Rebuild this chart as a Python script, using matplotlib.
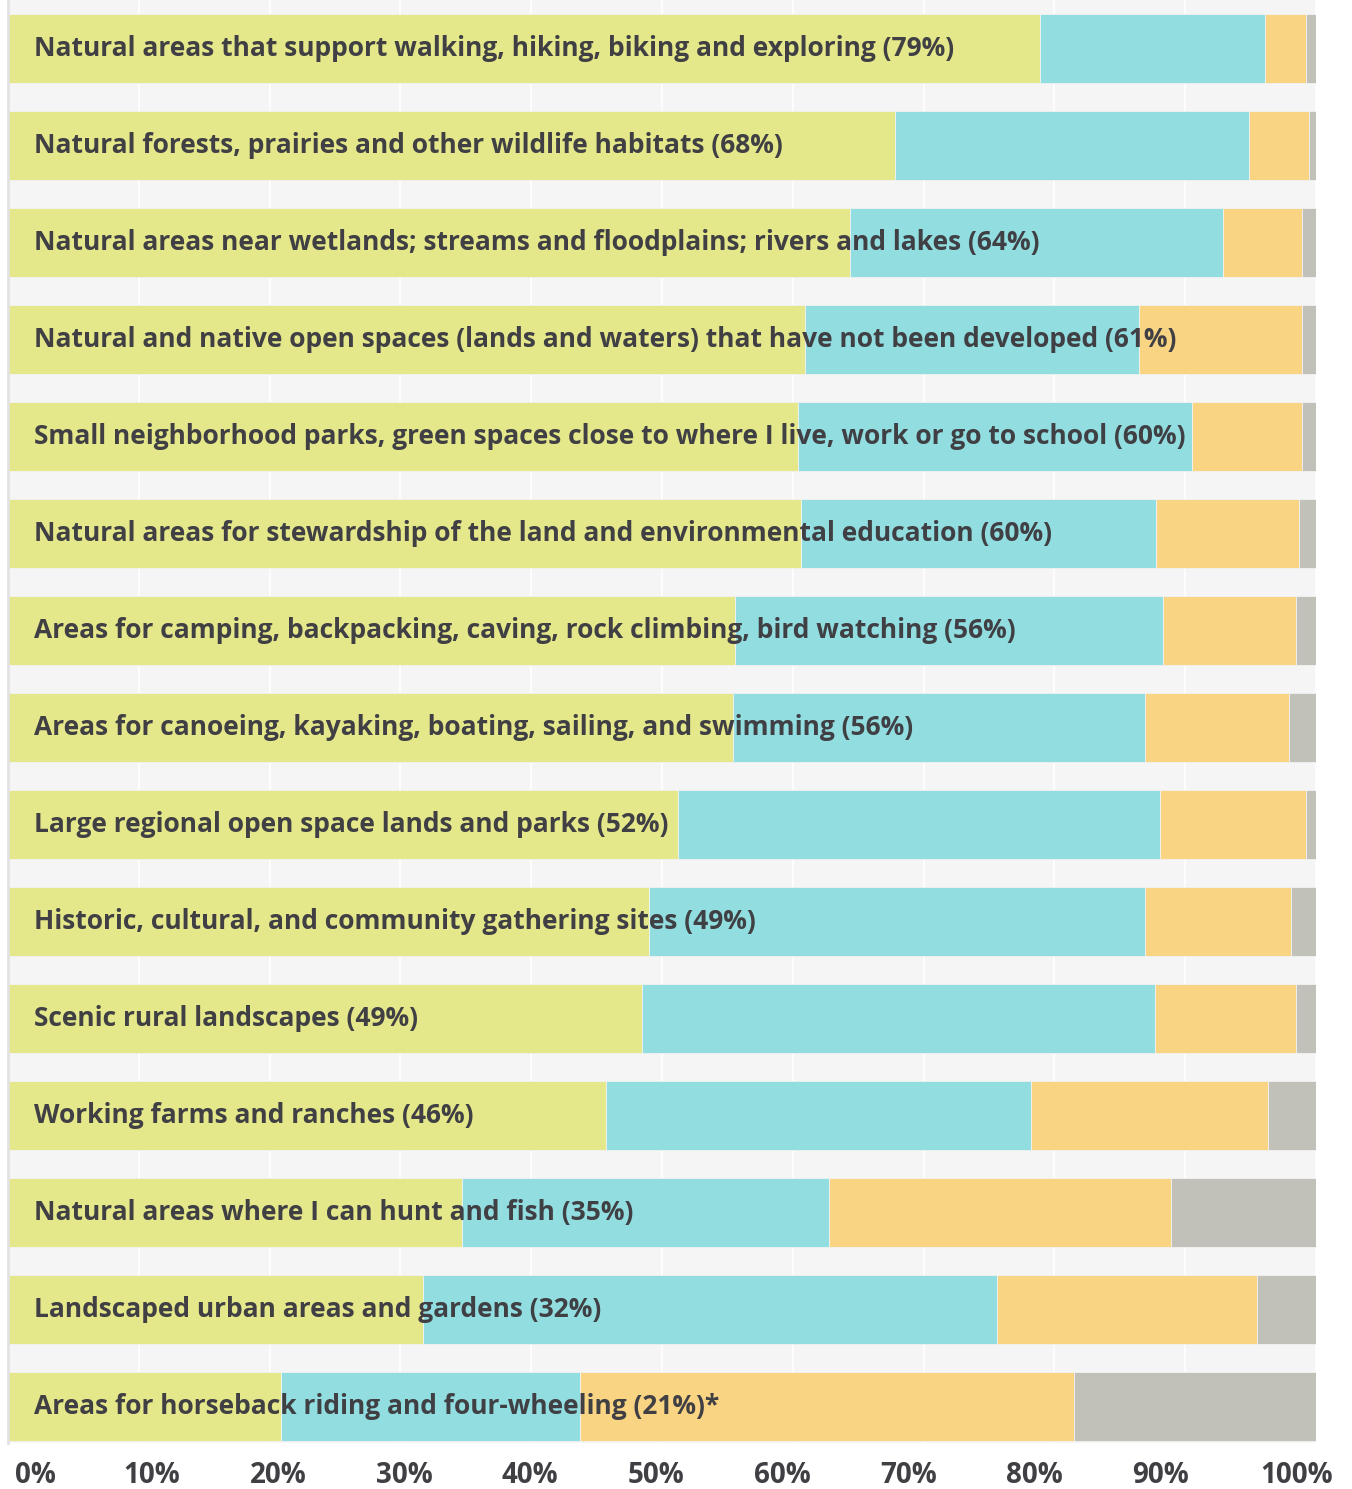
import numpy as np
import matplotlib
matplotlib.use("Agg")
import matplotlib.pyplot as plt

# survey categories, top to bottom
labels = [
    "Natural areas that support walking, hiking, biking and exploring (79%)",
    "Natural forests, prairies and other wildlife habitats (68%)",
    "Natural areas near wetlands; streams and floodplains; rivers and lakes (64%)",
    "Natural and native open spaces (lands and waters) that have not been developed (61%)",
    "Small neighborhood parks, green spaces close to where I live, work or go to school (60%)",
    "Natural areas for stewardship of the land and environmental education (60%)",
    "Areas for camping, backpacking, caving, rock climbing, bird watching (56%)",
    "Areas for canoeing, kayaking, boating, sailing, and swimming (56%)",
    "Large regional open space lands and parks (52%)",
    "Historic, cultural, and community gathering sites (49%)",
    "Scenic rural landscapes (49%)",
    "Working farms and ranches (46%)",
    "Natural areas where I can hunt and fish (35%)",
    "Landscaped urban areas and gardens (32%)",
    "Areas for horseback riding and four-wheeling (21%)*",
]

# share of responses per segment (%)
very_important = [78.9, 67.8, 64.4, 60.9, 60.4, 60.6, 55.6, 55.4, 51.2, 49.0, 48.5, 45.7, 34.7, 31.7, 20.9]
somewhat_important = [17.2, 27.1, 28.5, 25.6, 30.1, 27.2, 32.7, 31.5, 36.9, 37.9, 39.2, 32.5, 28.1, 43.9, 22.8]
not_important = [3.1, 4.6, 6.0, 12.4, 8.4, 10.9, 10.2, 11.0, 11.1, 11.2, 10.8, 18.1, 26.1, 19.9, 37.8]
no_opinion = [0.8, 0.5, 1.1, 1.1, 1.1, 1.3, 1.5, 2.1, 0.8, 1.9, 1.5, 3.7, 11.1, 4.5, 18.5]

tick_labels = ["0%", "10%", "20%", "30%", "40%", "50%", "60%", "70%", "80%", "90%", "100%"]

colors = ["#e4e78a", "#91dde0", "#f9d483", "#c1c1b9"]
text_color = "#3f3f44"

plt.rcParams["font.family"] = ["Open Sans", "DejaVu Sans"]

fig = plt.figure(figsize=(13.52, 14.89), dpi=100)
ax = fig.add_axes([8 / 1352, 1 - 1443 / 1489, 1308 / 1352, 1443 / 1489])
ax.set_facecolor("#f5f5f5")

y = np.arange(len(labels))
left = np.zeros(len(labels))
for vals, c in zip([very_important, somewhat_important, not_important, no_opinion], colors):
    ax.barh(y, vals, left=left, height=0.71, color=c, edgecolor="#f2f2f2", linewidth=0.6, zorder=2)
    left += np.array(vals)

for i, lab in enumerate(labels):
    ax.text(2.0, i, lab, va="center", ha="left", fontsize=19, fontweight="bold",
            color=text_color, zorder=3)

ax.set_xlim(0, 100)
ax.set_ylim(len(labels) - 1 + 0.376, -0.5)

ax.set_xticks(np.arange(0, 101, 10))
ax.xaxis.grid(True, color="white", linewidth=1.2, zorder=1)
ax.set_axisbelow(True)
ax.set_xticklabels([])
ax.set_yticks([])
ax.tick_params(length=0)

# the original spreads its tick labels on a slightly different scale than the bars
label_x = [2.06] + [11.0 + 9.64 * (i - 1) for i in range(1, 10)] + [98.5]
for xp, t in zip(label_x, tick_labels):
    ax.text(xp, -0.0228, t, transform=ax.get_xaxis_transform(),
            ha="center", va="center", fontsize=20, fontweight="bold", color=text_color)

for s in ["top", "right", "bottom"]:
    ax.spines[s].set_visible(False)
ax.spines["left"].set_color("#e2e2e2")
ax.spines["left"].set_linewidth(2)

fig.savefig("out.png", dpi=100)
